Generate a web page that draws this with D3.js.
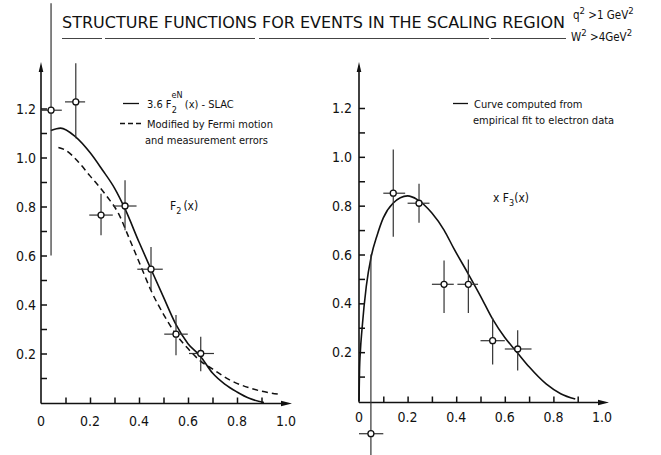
<!DOCTYPE html>
<html>
<head>
<meta charset="utf-8">
<script src="https://cdn.jsdelivr.net/npm/d3@7"></script>
<style>
  html, body { margin: 0; padding: 0; background: #fff; }
  svg { display: block; }
  text { font-family: "DejaVu Sans Condensed", "DejaVu Sans", sans-serif; fill: #111; }
</style>
</head>
<body>
<svg id="chart" width="661" height="455"></svg>
<script>
// ---- Data ---------------------------------------------------------------
// Measured F2(x) points with error bars
const f2Points = [
  { x: 0.041, y: 1.193, xLo: 0.0,   xHi: 0.085, yLo: 0.60,  yHi: 1.63 },
  { x: 0.142, y: 1.227, xLo: 0.098, xHi: 0.180, yLo: 1.079, yHi: 1.385 },
  { x: 0.245, y: 0.765, xLo: 0.197, xHi: 0.293, yLo: 0.683, yHi: 0.852 },
  { x: 0.343, y: 0.802, xLo: 0.294, xHi: 0.390, yLo: 0.703, yHi: 0.907 },
  { x: 0.449, y: 0.544, xLo: 0.393, xHi: 0.497, yLo: 0.458, yHi: 0.635 },
  { x: 0.551, y: 0.279, xLo: 0.503, xHi: 0.599, yLo: 0.193, yHi: 0.357 },
  { x: 0.652, y: 0.200, xLo: 0.604, xHi: 0.706, yLo: 0.128, yHi: 0.268 }
];

// 3.6 F2^eN(x) from SLAC
const slacCurve = [
  [0.04, 1.11], [0.08, 1.12], [0.14, 1.085], [0.20, 1.02], [0.25, 0.95],
  [0.30, 0.875], [0.343, 0.79], [0.40, 0.655], [0.445, 0.553], [0.50, 0.43],
  [0.55, 0.32], [0.60, 0.24], [0.65, 0.19], [0.70, 0.12], [0.75, 0.075],
  [0.80, 0.043], [0.85, 0.017], [0.91, 0.0]
];

// Modified by Fermi motion and measurement errors
const fermiCurve = [
  [0.071, 1.041], [0.10, 1.03], [0.15, 0.985], [0.20, 0.925], [0.227, 0.894],
  [0.27, 0.84], [0.316, 0.772], [0.36, 0.67], [0.41, 0.55], [0.45, 0.455],
  [0.50, 0.36], [0.55, 0.28], [0.60, 0.22], [0.65, 0.17], [0.70, 0.137],
  [0.77, 0.092], [0.85, 0.06], [0.90, 0.046], [0.98, 0.033]
];

// Measured xF3(x) points with error bars
const xf3Points = [
  { x: 0.049, y: -0.134, xLo: 0.0,   xHi: 0.10,  yLo: -0.26, yHi: 0.60 },
  { x: 0.141, y: 0.851,  xLo: 0.10,  xHi: 0.19,  yLo: 0.673, yHi: 1.03 },
  { x: 0.247, y: 0.810,  xLo: 0.20,  xHi: 0.29,  yLo: 0.73,  yHi: 0.89 },
  { x: 0.350, y: 0.478,  xLo: 0.30,  xHi: 0.39,  yLo: 0.36,  yHi: 0.575 },
  { x: 0.450, y: 0.478,  xLo: 0.405, xHi: 0.49,  yLo: 0.36,  yHi: 0.58 },
  { x: 0.550, y: 0.247,  xLo: 0.50,  xHi: 0.60,  yLo: 0.15,  yHi: 0.34 },
  { x: 0.653, y: 0.213,  xLo: 0.60,  xHi: 0.71,  yLo: 0.125, yHi: 0.29 }
];

// Empirical fit to electron data
const electronFitCurve = [
  [0.0, 0.0], [0.002, 0.12], [0.006, 0.21], [0.012, 0.29], [0.03, 0.47],
  [0.05, 0.59], [0.075, 0.68], [0.10, 0.75], [0.14, 0.81], [0.20, 0.84],
  [0.24, 0.825], [0.30, 0.77], [0.35, 0.70], [0.39, 0.625], [0.45, 0.52],
  [0.50, 0.43], [0.55, 0.335], [0.60, 0.26], [0.65, 0.20], [0.70, 0.14],
  [0.77, 0.07], [0.83, 0.03], [0.89, 0.008]
];

const xTickValues = [0.1, 0.2, 0.3, 0.4, 0.5, 0.6, 0.7, 0.8, 0.9];
const xTickLabels = ["0", "0.2", "0.4", "0.6", "0.8", "1.0"];
const xLabelValues = [0, 0.2, 0.4, 0.6, 0.8, 1.0];
const yTickValues = [0.1, 0.2, 0.3, 0.4, 0.5, 0.6, 0.7, 0.8, 0.9, 1.0, 1.1, 1.2];
const yTickLabels = ["0.2", "0.4", "0.6", "0.8", "1.0", "1.2"];
const yLabelValues = [0.2, 0.4, 0.6, 0.8, 1.0, 1.2];

// ---- Drawing ------------------------------------------------------------
const svg = d3.select("#chart");

// Title and kinematic cuts
svg.append("text")
  .attr("x", 62).attr("y", 28)
  .attr("font-size", 16)
  .attr("textLength", 503).attr("lengthAdjust", "spacingAndGlyphs")
  .text("STRUCTURE  FUNCTIONS  FOR  EVENTS  IN THE  SCALING  REGION");
svg.append("line")
  .attr("x1", 62).attr("x2", 566).attr("y1", 38.5).attr("y2", 38.5)
  .attr("stroke", "#444").attr("stroke-width", 1)
  .attr("stroke-dasharray", "40,3,150,4,230,2,80");

function cutLabel(x, y, sym, rest) {
  const t = svg.append("text").attr("x", x).attr("y", y).attr("font-size", 11.5);
  t.append("tspan").text(sym);
  t.append("tspan").attr("dy", -5).attr("font-size", 9.5).text("2");
  t.append("tspan").attr("dy", 5).text(rest);
  t.append("tspan").attr("dy", -5).attr("font-size", 9.5).text("2");
}
cutLabel(573, 19, "q", "  >1 GeV");
cutLabel(571, 41, "W", " >4GeV");

function panel(cfg) {
  const g = svg.append("g");
  const x = d3.scaleLinear([0, 1], cfg.xRange);
  const y = d3.scaleLinear([0, 1.2], cfg.yRange);
  const x0 = x(0), yAxisPos = cfg.axisY;

  // Axis lines with arrowheads
  g.append("line").attr("x1", x0).attr("x2", cfg.xEnd - 6)
    .attr("y1", yAxisPos).attr("y2", yAxisPos)
    .attr("stroke", "#111").attr("stroke-width", 1.6);
  g.append("path")
    .attr("d", `M${cfg.xEnd},${yAxisPos} L${cfg.xEnd - 11},${yAxisPos - 2.8} L${cfg.xEnd - 11},${yAxisPos + 2.8} Z`)
    .attr("fill", "#111");
  g.append("line").attr("x1", x0).attr("x2", x0)
    .attr("y1", yAxisPos).attr("y2", cfg.yTop + 6)
    .attr("stroke", "#111").attr("stroke-width", 1.6);
  g.append("path")
    .attr("d", `M${x0},${cfg.yTop} L${x0 - 2.3},${cfg.yTop + 10} L${x0 + 2.3},${cfg.yTop + 10} Z`)
    .attr("fill", "#111");

  // Inward ticks
  const xAx = d3.axisBottom(x).tickValues(xTickValues).tickSize(-6).tickFormat("");
  g.append("g").attr("transform", `translate(0,${yAxisPos})`).call(xAx)
    .call(s => s.select(".domain").remove())
    .call(s => s.selectAll(".tick line").attr("stroke", "#111").attr("stroke-width", 1.5));
  const yAx = d3.axisLeft(y).tickValues(yTickValues).tickSize(-6).tickFormat("");
  g.append("g").attr("transform", `translate(${x0},0)`).call(yAx)
    .call(s => s.select(".domain").remove())
    .call(s => s.selectAll(".tick line").attr("stroke", "#111").attr("stroke-width", 1.5));

  // Tick labels
  g.selectAll(".xl").data(xLabelValues).join("text")
    .attr("x", d => x(d)).attr("y", cfg.xLabelY)
    .attr("text-anchor", "middle").attr("font-size", 14)
    .text((d, i) => xTickLabels[i]);
  g.selectAll(".yl").data(yLabelValues).join("text")
    .attr("x", x0 - cfg.yLabelPad).attr("y", d => y(d) + 5)
    .attr("text-anchor", "end").attr("font-size", 14)
    .text((d, i) => yTickLabels[i]);

  // Curves
  const line = d3.line().x(d => x(d[0])).y(d => y(d[1])).curve(d3.curveMonotoneX);
  cfg.curves.forEach(c => {
    g.append("path").attr("d", line(c.data))
      .attr("fill", "none").attr("stroke", "#111")
      .attr("stroke-width", c.width || 1.5)
      .attr("stroke-dasharray", c.dash || null);
  });

  // Error bars and open circles
  const pts = g.selectAll(".pt").data(cfg.points).join("g");
  pts.append("line")
    .attr("x1", d => x(d.x)).attr("x2", d => x(d.x))
    .attr("y1", d => y(d.yLo)).attr("y2", d => y(d.yHi))
    .attr("stroke", "#333").attr("stroke-width", 1.2);
  pts.append("line")
    .attr("x1", d => x(d.xLo)).attr("x2", d => x(d.xHi))
    .attr("y1", d => y(d.y)).attr("y2", d => y(d.y))
    .attr("stroke", "#333").attr("stroke-width", 1.2);
  pts.append("circle")
    .attr("cx", d => x(d.x)).attr("cy", d => y(d.y)).attr("r", 3)
    .attr("fill", "#fff").attr("stroke", "#111").attr("stroke-width", 1.3);

  return { g, x, y };
}

// Left panel: F2(x)
const left = panel({
  xRange: [41, 286], yRange: [402.5, 108.5], axisY: 403.5,
  xEnd: 292, yTop: 62, xLabelY: 426, yLabelPad: 5,
  points: f2Points,
  curves: [
    { data: slacCurve, width: 1.6 },
    { data: fermiCurve, width: 1.5, dash: "6,4" }
  ]
});

// Right panel: xF3(x)
const right = panel({
  xRange: [359, 602], yRange: [401, 108], axisY: 402.5,
  xEnd: 609, yTop: 62, xLabelY: 422, yLabelPad: 7,
  points: xf3Points,
  curves: [{ data: electronFitCurve, width: 1.6 }]
});

// Legends
function legendLine(x1, x2, yy, dash) {
  svg.append("line").attr("x1", x1).attr("x2", x2).attr("y1", yy).attr("y2", yy)
    .attr("stroke", "#111").attr("stroke-width", 1.3)
    .attr("stroke-dasharray", dash || null);
}
legendLine(123, 139, 103.5);
const lg1 = svg.append("text").attr("x", 147).attr("y", 107.5).attr("font-size", 11);
lg1.append("tspan").text("3.6  F");
lg1.append("tspan").attr("dy", -10).attr("font-size", 9).text("eN");
lg1.append("tspan").attr("dx", -11).attr("dy", 15).attr("font-size", 9).text("2");
lg1.append("tspan").attr("dx", 8).attr("dy", -5).text("(x)  - SLAC");
legendLine(120, 141, 123.5, "5,3");
svg.append("text").attr("x", 147).attr("y", 127.5).attr("font-size", 11)
  .text("Modified by Fermi  motion");
svg.append("text").attr("x", 145).attr("y", 144).attr("font-size", 11)
  .text("and  measurement  errors");

const f2l = svg.append("text").attr("x", 170).attr("y", 210).attr("font-size", 12);
f2l.append("tspan").text("F");
f2l.append("tspan").attr("dy", 4).attr("font-size", 9).text("2");
f2l.append("tspan").attr("dy", -4).attr("dx", 2).text("(x)");

legendLine(453, 468, 103.5);
svg.append("text").attr("x", 474).attr("y", 107.5).attr("font-size", 11)
  .text("Curve  computed  from");
svg.append("text").attr("x", 473).attr("y", 123.5).attr("font-size", 11)
  .text("empirical  fit to electron data");

const f3l = svg.append("text").attr("x", 493).attr("y", 202).attr("font-size", 12);
f3l.append("tspan").text("x  F");
f3l.append("tspan").attr("dy", 4).attr("font-size", 9).text("3");
f3l.append("tspan").attr("dy", -4).text("(x)");
</script>
</body>
</html>
